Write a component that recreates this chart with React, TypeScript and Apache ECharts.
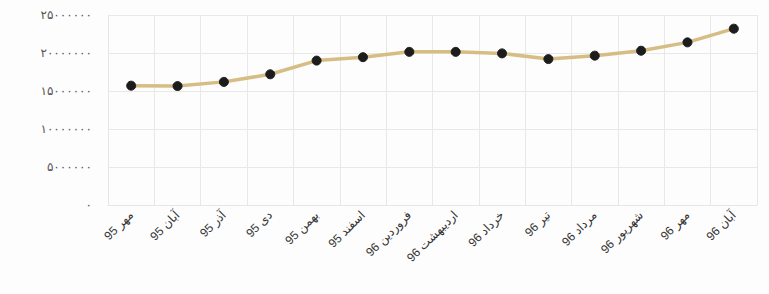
import React, { useEffect, useRef } from "react";
import * as echarts from "echarts";

const categories = [
  "مهر 95",
  "آبان 95",
  "آذر 95",
  "دی 95",
  "بهمن 95",
  "اسفند 95",
  "فروردین 96",
  "اردیبهشت 96",
  "خرداد 96",
  "تیر 96",
  "مرداد 96",
  "شهریور 96",
  "مهر 96",
  "آبان 96",
];

const values = [
  15700000, 15650000, 16200000, 17200000, 19000000, 19450000, 20150000,
  20150000, 19950000, 19200000, 19650000, 20300000, 21400000, 23200000,
];

const yTicks = [0, 5000000, 10000000, 15000000, 20000000, 25000000];

const persianDigits = ["۰", "۱", "۲", "۳", "۴", "۵", "۶", "۷", "۸", "۹"];
const toPersian = (n: number) =>
  String(n).replace(/[0-9]/g, (d) => persianDigits[Number(d)]);

export default function App() {
  const ref = useRef<HTMLDivElement>(null);
  useEffect(() => {
    document.body.style.margin = "0";
    const chart = echarts.init(ref.current!, undefined, { renderer: "svg" });
    chart.setOption({
      animation: false,
      backgroundColor: "#fdfdfd",
      grid: { left: 108, right: 12, top: 15, bottom: 89 },
      xAxis: {
        type: "category",
        data: categories,
        boundaryGap: true,
        axisLine: { show: true, lineStyle: { color: "#e6e6e6" } },
        axisTick: { show: false },
        splitLine: { show: true, lineStyle: { color: "#e8e8e8", width: 1 } },
        axisLabel: {
          rotate: 45,
          interval: 0,
          margin: 8,
          color: "#333",
          fontSize: 12,
          fontFamily: "Liberation Sans, DejaVu Sans, sans-serif",
        },
      },
      yAxis: {
        type: "value",
        min: yTicks[0],
        max: yTicks[yTicks.length - 1],
        interval: yTicks[1] - yTicks[0],
        axisLine: { show: true, lineStyle: { color: "#e6e6e6" } },
        axisTick: { show: false },
        splitLine: { show: true, lineStyle: { color: "#e8e8e8", width: 1 } },
        axisLabel: {
          margin: 16,
          color: "#555",
          fontSize: 12,
          fontFamily: "DejaVu Sans, sans-serif",
          formatter: (v: number) => toPersian(v),
        },
      },
      series: [
        {
          type: "line",
          data: values,
          symbol: "circle",
          symbolSize: 9,
          lineStyle: { color: "#d6bd84", width: 3.5 },
          itemStyle: { color: "#1c1c1c", borderColor: "#1c1c1c" },
        },
      ],
    });
    return () => chart.dispose();
  }, []);
  return <div ref={ref} style={{ width: 769, height: 294 }} />;
}
